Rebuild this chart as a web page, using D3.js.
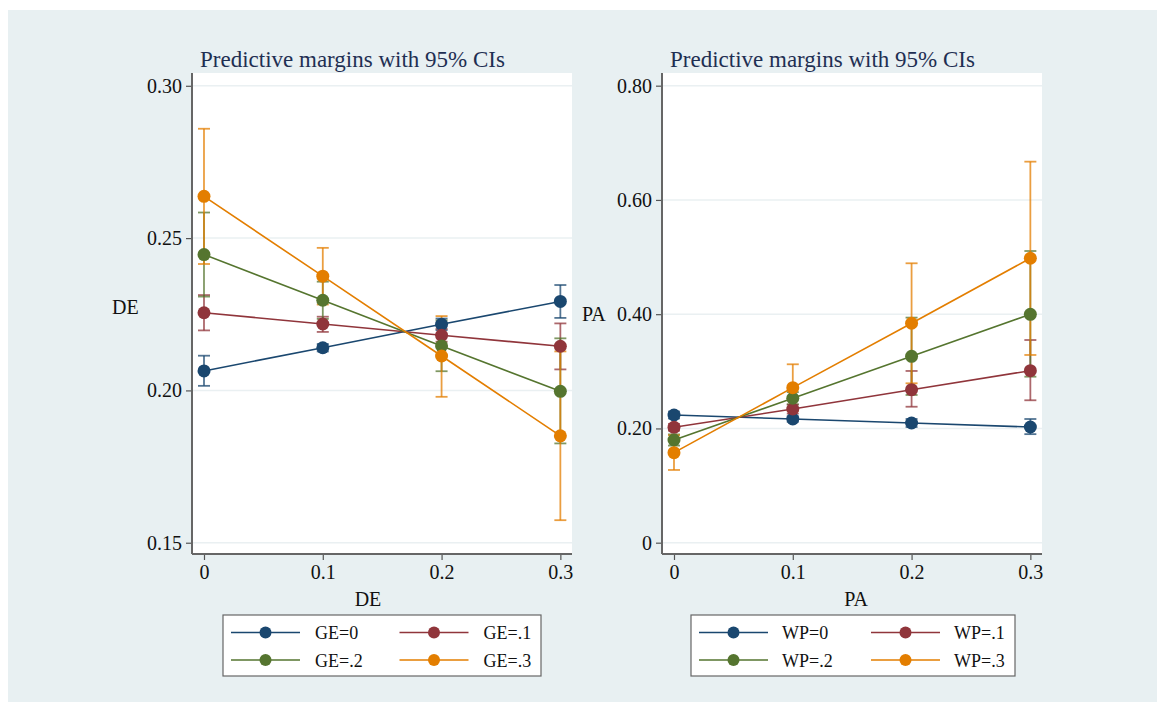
<!DOCTYPE html>
<html>
<head>
<meta charset="utf-8">
<script src="https://cdn.jsdelivr.net/npm/d3@7"></script>
<style>
  body { margin: 0; background: #ffffff; }
  svg { display: block; font-family: 'Liberation Serif', 'Times New Roman', serif; }
</style>
</head>
<body>
<svg id="chart" width="1163" height="708"></svg>
<script>
// x levels shared by both panels
const xLevels = [0, 0.1, 0.2, 0.3];
const xTicks = [0, 0.1, 0.2, 0.3];

// left panel: DE by GE
const geLabels = ['GE=0', 'GE=.1', 'GE=.2', 'GE=.3'];
const geMargin = [
  [0.2064, 0.2140, 0.2217, 0.2292],
  [0.2255, 0.2218, 0.2181, 0.2145],
  [0.2446, 0.2296, 0.2146, 0.1997],
  [0.2637, 0.2375, 0.2113, 0.1851]
];
const geLower = [
  [0.2015, 0.2128, 0.2198, 0.2238],
  [0.2197, 0.2192, 0.2160, 0.2069],
  [0.2308, 0.2235, 0.2063, 0.1826],
  [0.2415, 0.2282, 0.1979, 0.1574]
];
const geUpper = [
  [0.2114, 0.2152, 0.2236, 0.2346],
  [0.2313, 0.2242, 0.2202, 0.2220],
  [0.2584, 0.2357, 0.2230, 0.2171],
  [0.2859, 0.2468, 0.2244, 0.2128]
];
const deTicks = [0.15, 0.20, 0.25, 0.30];

// right panel: PA by WP
const wpLabels = ['WP=0', 'WP=.1', 'WP=.2', 'WP=.3'];
const wpMargin = [
  [0.2235, 0.2165, 0.2095, 0.2025],
  [0.2020, 0.2340, 0.2678, 0.3011],
  [0.1798, 0.2528, 0.3263, 0.3998],
  [0.1576, 0.2714, 0.3841, 0.4979]
];
const wpLower = [
  [0.2175, 0.2115, 0.2025, 0.1900],
  [0.1960, 0.2260, 0.2380, 0.2493],
  [0.1700, 0.2420, 0.2586, 0.2906],
  [0.1273, 0.2305, 0.2790, 0.3286]
];
const wpUpper = [
  [0.2295, 0.2215, 0.2165, 0.2165],
  [0.2080, 0.2420, 0.3006, 0.3548],
  [0.1896, 0.2636, 0.3940, 0.5106],
  [0.1880, 0.3123, 0.4891, 0.6670]
];
const paTicks = [0, 0.20, 0.40, 0.60, 0.80];

const colors = ['#1a476f', '#90353b', '#55752f', '#e37e00'];

const svg = d3.select('#chart');

// graph region background
svg.append('rect')
  .attr('x', 8).attr('y', 10)
  .attr('width', 1149).attr('height', 692)
  .attr('fill', '#e8f0f2');

function drawPanel(opts) {
  let left = opts.left, top = 73, width = 380, height = 481;
  let g = svg.append('g').attr('transform', 'translate(' + left + ',' + top + ')');

  let x = d3.scaleLinear().domain([-0.0101, 0.3098]).range([0, width]);
  let y = d3.scaleLinear().domain(opts.yDomain).range([height, 0]);

  // plot region
  g.append('rect')
    .attr('width', width).attr('height', height)
    .attr('fill', '#ffffff');

  // gridlines
  g.selectAll('.grid')
    .data(opts.yTicks)
    .enter()
    .append('line')
    .attr('x1', 0).attr('x2', width)
    .attr('y1', d => y(d)).attr('y2', d => y(d))
    .attr('stroke', '#eaf0f2')
    .attr('stroke-width', 1.5);

  // y axis
  let yAxis = d3.axisLeft(y).tickValues(opts.yTicks).tickFormat(opts.yFormat).tickSize(6).tickPadding(4);
  let ya = g.append('g').call(yAxis);
  ya.select('.domain').remove();
  ya.selectAll('.tick line').attr('stroke', '#555').attr('stroke-width', 1.2);
  ya.selectAll('.tick text').attr('font-size', 20).attr('fill', '#111').attr('font-family', 'Liberation Serif');
  g.append('line')
    .attr('x1', 0).attr('x2', 0).attr('y1', 0).attr('y2', height)
    .attr('stroke', '#666').attr('stroke-width', 2);

  // x axis
  let xAxis = d3.axisBottom(x).tickValues(xTicks).tickFormat(d => d === 0 ? '0' : d3.format('.1f')(d)).tickSize(6).tickPadding(5);
  let xa = g.append('g').attr('transform', 'translate(0,' + height + ')').call(xAxis);
  xa.select('.domain').remove();
  xa.selectAll('.tick line').attr('stroke', '#555').attr('stroke-width', 1.2);
  xa.selectAll('.tick text').attr('font-size', 20).attr('fill', '#111').attr('font-family', 'Liberation Serif');
  g.append('line')
    .attr('x1', 0).attr('x2', width).attr('y1', height).attr('y2', height)
    .attr('stroke', '#666').attr('stroke-width', 2);

  // title and axis titles
  g.append('text')
    .attr('x', 8).attr('y', -6)
    .attr('font-size', 23).attr('fill', '#1f2f52')
    .text('Predictive margins with 95% CIs');
  g.append('text')
    .attr('x', opts.yTitleX).attr('y', opts.yTitleY)
    .attr('font-size', 20).attr('fill', '#111')
    .text(opts.yTitle);
  g.append('text')
    .attr('x', opts.xTitleX).attr('y', height + 52)
    .attr('text-anchor', 'middle')
    .attr('font-size', 20).attr('fill', '#111')
    .text(opts.xTitle);

  // confidence intervals
  opts.margin.forEach(function(series, s) {
    let ci = xLevels.map((v, i) => ({ x: v, lo: opts.lower[s][i], hi: opts.upper[s][i] }));
    let cg = g.append('g').attr('stroke', colors[s]).attr('stroke-opacity', 0.75).attr('stroke-width', 1.8);
    cg.selectAll('.ci')
      .data(ci).enter().append('line')
      .attr('x1', d => x(d.x)).attr('x2', d => x(d.x))
      .attr('y1', d => y(d.lo)).attr('y2', d => y(d.hi));
    cg.selectAll('.caplo')
      .data(ci).enter().append('line')
      .attr('x1', d => x(d.x) - 6).attr('x2', d => x(d.x) + 6)
      .attr('y1', d => y(d.lo)).attr('y2', d => y(d.lo));
    cg.selectAll('.caphi')
      .data(ci).enter().append('line')
      .attr('x1', d => x(d.x) - 6).attr('x2', d => x(d.x) + 6)
      .attr('y1', d => y(d.hi)).attr('y2', d => y(d.hi));
  });

  // lines and markers
  let line = d3.line().x((d, i) => x(xLevels[i])).y(d => y(d));
  opts.margin.forEach(function(series, s) {
    g.append('path')
      .datum(series)
      .attr('d', line)
      .attr('fill', 'none')
      .attr('stroke', colors[s])
      .attr('stroke-width', 1.6);
    g.selectAll('.dot' + s)
      .data(series).enter().append('circle')
      .attr('cx', (d, i) => x(xLevels[i]))
      .attr('cy', d => y(d))
      .attr('r', 6.5)
      .attr('fill', colors[s]);
  });

  // legend
  let lg = svg.append('g').attr('transform', 'translate(' + opts.legendX + ',615)');
  lg.append('rect')
    .attr('width', opts.legendW).attr('height', 61)
    .attr('fill', '#ffffff')
    .attr('stroke', '#666').attr('stroke-width', 1.2);
  opts.labels.forEach(function(label, s) {
    let col = s % 2, row = Math.floor(s / 2);
    let ox = 8 + col * opts.legendCol, oy = 17.5 + row * 27.5;
    lg.append('line')
      .attr('x1', ox).attr('x2', ox + 69)
      .attr('y1', oy).attr('y2', oy)
      .attr('stroke', colors[s]).attr('stroke-width', 1.6);
    lg.append('circle')
      .attr('cx', ox + 34.5).attr('cy', oy).attr('r', 6)
      .attr('fill', colors[s]);
    lg.append('text')
      .attr('x', ox + opts.legendText).attr('y', oy + 6.5)
      .attr('font-size', 18).attr('fill', '#111')
      .text(label);
  });
}

drawPanel({
  left: 192,
  yDomain: [0.1463, 0.3042],
  yTicks: deTicks,
  yFormat: d3.format('.2f'),
  yTitle: 'DE', yTitleX: -80, yTitleY: 241,
  xTitle: 'DE', xTitleX: 176,
  labels: geLabels, margin: geMargin, lower: geLower, upper: geUpper,
  legendX: 223, legendW: 318, legendCol: 168.5, legendText: 84
});

drawPanel({
  left: 662,
  yDomain: [-0.0198, 0.8222],
  yTicks: paTicks,
  yFormat: d => d === 0 ? '0' : d3.format('.2f')(d),
  yTitle: 'PA', yTitleX: -80, yTitleY: 248,
  xTitle: 'PA', xTitleX: 194,
  labels: wpLabels, margin: wpMargin, lower: wpLower, upper: wpUpper,
  legendX: 691, legendW: 324, legendCol: 172, legendText: 83
});
</script>
</body>
</html>
